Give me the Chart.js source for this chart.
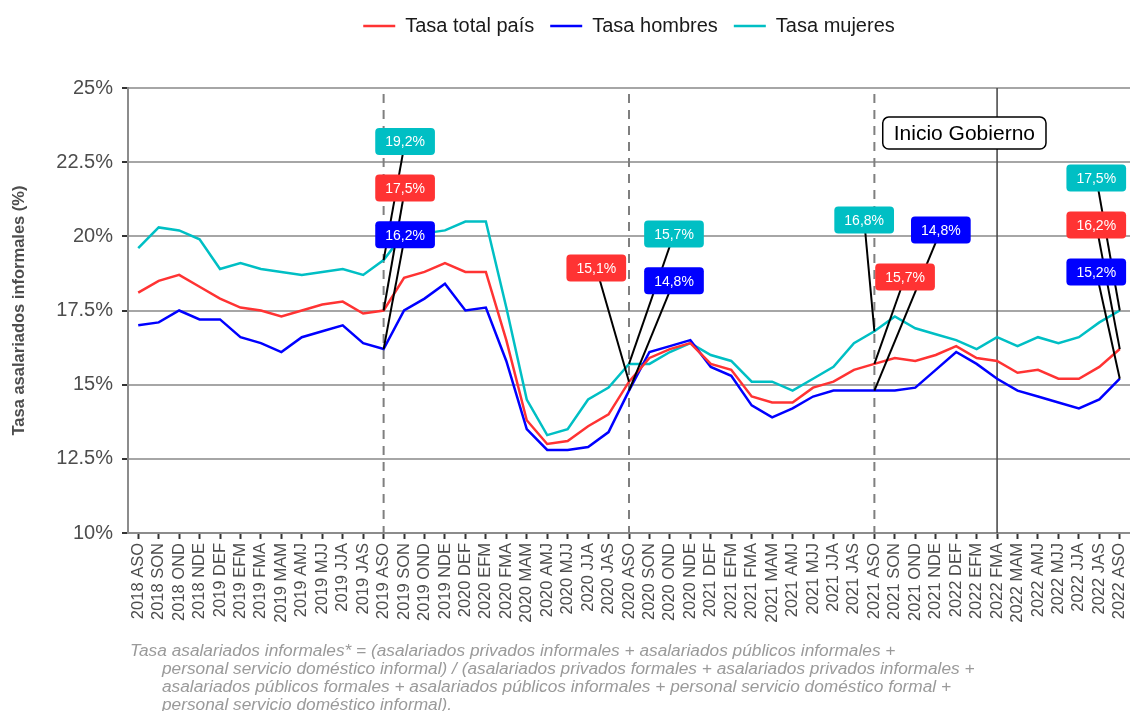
<!DOCTYPE html>
<html>
<head>
<meta charset="utf-8">
<script src="https://cdn.jsdelivr.net/npm/chart.js@4/dist/chart.umd.min.js"></script>
<style>
  html, body { margin: 0; padding: 0; background: #fff; }
  #wrap { width: 1130px; height: 711px; position: relative; }
</style>
</head>
<body>
<div id="wrap"><canvas id="chart"></canvas></div>
<script>
// Trimestres móviles
const periods = [
  "2018 ASO", "2018 SON", "2018 OND", "2018 NDE",
  "2019 DEF", "2019 EFM", "2019 FMA", "2019 MAM", "2019 AMJ", "2019 MJJ", "2019 JJA", "2019 JAS",
  "2019 ASO", "2019 SON", "2019 OND", "2019 NDE",
  "2020 DEF", "2020 EFM", "2020 FMA", "2020 MAM", "2020 AMJ", "2020 MJJ", "2020 JJA", "2020 JAS",
  "2020 ASO", "2020 SON", "2020 OND", "2020 NDE",
  "2021 DEF", "2021 EFM", "2021 FMA", "2021 MAM", "2021 AMJ", "2021 MJJ", "2021 JJA", "2021 JAS",
  "2021 ASO", "2021 SON", "2021 OND", "2021 NDE",
  "2022 DEF", "2022 EFM", "2022 FMA", "2022 MAM", "2022 AMJ", "2022 MJJ", "2022 JJA", "2022 JAS",
  "2022 ASO"
];

const tasaTotal = [
  18.1, 18.5, 18.7, 18.3, 17.9, 17.6, 17.5, 17.3, 17.5, 17.7, 17.8, 17.4,
  17.5, 18.6, 18.8, 19.1, 18.8, 18.8, 16.5, 13.8, 13.0, 13.1, 13.6, 14.0,
  15.1, 15.9, 16.2, 16.4, 15.7, 15.5, 14.6, 14.4, 14.4, 14.9, 15.1, 15.5,
  15.7, 15.9, 15.8, 16.0, 16.3, 15.9, 15.8, 15.4, 15.5, 15.2, 15.2, 15.6,
  16.2
];
const tasaHombres = [
  17.0, 17.1, 17.5, 17.2, 17.2, 16.6, 16.4, 16.1, 16.6, 16.8, 17.0, 16.4,
  16.2, 17.5, 17.9, 18.4, 17.5, 17.6, 15.8, 13.5, 12.8, 12.8, 12.9, 13.4,
  14.8, 16.1, 16.3, 16.5, 15.6, 15.3, 14.3, 13.9, 14.2, 14.6, 14.8, 14.8,
  14.8, 14.8, 14.9, 15.5, 16.1, 15.7, 15.2, 14.8, 14.6, 14.4, 14.2, 14.5,
  15.2
];
const tasaMujeres = [
  19.6, 20.3, 20.2, 19.9, 18.9, 19.1, 18.9, 18.8, 18.7, 18.8, 18.9, 18.7,
  19.2, 20.1, 20.1, 20.2, 20.5, 20.5, 17.6, 14.5, 13.3, 13.5, 14.5, 14.9,
  15.7, 15.7, 16.1, 16.4, 16.0, 15.8, 15.1, 15.1, 14.8, 15.2, 15.6, 16.4,
  16.8, 17.3, 16.9, 16.7, 16.5, 16.2, 16.6, 16.3, 16.6, 16.4, 16.6, 17.1,
  17.5
];

const yTicks = [10, 12.5, 15, 17.5, 20, 22.5, 25];

// periodos marcados con línea vertical
const dashedAt = ["2019 ASO", "2020 ASO", "2021 ASO"];
const solidAt = "2022 FMA";

const colors = ["#ff3333", "#0000ff", "#00bfc4"];

// etiquetas: serie, periodo del punto, posición de la caja (índice de categoría, valor)
const callouts = [
  { s: 2, at: "2019 ASO", bx: 13.05, by: 23.2 },
  { s: 0, at: "2019 ASO", bx: 13.05, by: 21.63 },
  { s: 1, at: "2019 ASO", bx: 13.05, by: 20.05 },
  { s: 0, at: "2020 ASO", bx: 22.4, by: 18.93 },
  { s: 2, at: "2020 ASO", bx: 26.2, by: 20.08 },
  { s: 1, at: "2020 ASO", bx: 26.2, by: 18.5 },
  { s: 2, at: "2021 ASO", bx: 35.5, by: 20.55 },
  { s: 0, at: "2021 ASO", bx: 37.5, by: 18.63 },
  { s: 1, at: "2021 ASO", bx: 39.25, by: 20.21 },
  { s: 2, at: "2022 ASO", bx: 46.85, by: 21.97 },
  { s: 0, at: "2022 ASO", bx: 46.85, by: 20.38 },
  { s: 1, at: "2022 ASO", bx: 46.85, by: 18.8 }
];
const gobierno = { text: "Inicio Gobierno", bx: 40.4, by: 23.48 };

const captionLines = [
  "Tasa asalariados informales* = (asalariados privados informales + asalariados públicos informales +",
  "personal servicio doméstico informal) / (asalariados privados formales + asalariados privados informales +",
  "asalariados públicos formales + asalariados públicos informales + personal servicio doméstico formal +",
  "personal servicio doméstico informal)."
];

function fmtPct(v) {
  return v.toFixed(1).replace(".", ",") + "%";
}

function roundBox(ctx, x, y, w, h, r) {
  ctx.beginPath();
  ctx.moveTo(x + r, y);
  ctx.arcTo(x + w, y, x + w, y + h, r);
  ctx.arcTo(x + w, y + h, x, y + h, r);
  ctx.arcTo(x, y + h, x, y, r);
  ctx.arcTo(x, y, x + w, y, r);
  ctx.closePath();
}

const refLines = {
  id: "refLines",
  beforeDatasetsDraw(chart) {
    const { ctx, chartArea, scales } = chart;
    ctx.save();
    ctx.strokeStyle = "#7f7f7f";
    ctx.lineWidth = 2;
    ctx.setLineDash([9, 7]);
    dashedAt.forEach(p => {
      const px = scales.x.getPixelForValue(periods.indexOf(p));
      ctx.beginPath();
      ctx.moveTo(px, chartArea.top + 6);
      ctx.lineTo(px, chartArea.bottom);
      ctx.stroke();
    });
    ctx.setLineDash([]);
    ctx.strokeStyle = "#4d4d4d";
    ctx.lineWidth = 1.6;
    const sx = scales.x.getPixelForValue(periods.indexOf(solidAt));
    ctx.beginPath();
    ctx.moveTo(sx, chartArea.top);
    ctx.lineTo(sx, chartArea.bottom);
    ctx.stroke();
    ctx.restore();
  }
};

const labelsPlugin = {
  id: "labels",
  afterDatasetsDraw(chart) {
    const { ctx, scales } = chart;
    const series = [tasaTotal, tasaHombres, tasaMujeres];
    ctx.save();
    // líneas guía
    ctx.strokeStyle = "#000";
    ctx.lineWidth = 2;
    callouts.forEach(c => {
      const i = periods.indexOf(c.at);
      ctx.beginPath();
      ctx.moveTo(scales.x.getPixelForValue(i), scales.y.getPixelForValue(series[c.s][i]));
      ctx.lineTo(scales.x.getPixelForValue(c.bx), scales.y.getPixelForValue(c.by));
      ctx.stroke();
    });
    // cajas
    ctx.font = "14px 'Liberation Sans', Arial, sans-serif";
    ctx.textAlign = "center";
    ctx.textBaseline = "middle";
    callouts.forEach(c => {
      const i = periods.indexOf(c.at);
      const txt = fmtPct(series[c.s][i]);
      const cx = scales.x.getPixelForValue(c.bx);
      const cy = scales.y.getPixelForValue(c.by);
      const w = ctx.measureText(txt).width + 20;
      const h = 27;
      ctx.fillStyle = colors[c.s];
      roundBox(ctx, cx - w / 2, cy - h / 2, w, h, 4);
      ctx.fill();
      ctx.fillStyle = "#fff";
      ctx.fillText(txt, cx, cy + 1);
    });
    // Inicio Gobierno
    ctx.font = "21px 'Liberation Sans', Arial, sans-serif";
    const gx = scales.x.getPixelForValue(gobierno.bx);
    const gy = scales.y.getPixelForValue(gobierno.by);
    const gw = ctx.measureText(gobierno.text).width + 22;
    const gh = 32;
    roundBox(ctx, gx - gw / 2, gy - gh / 2, gw, gh, 6);
    ctx.fillStyle = "#fff";
    ctx.fill();
    ctx.strokeStyle = "#000";
    ctx.lineWidth = 1.5;
    ctx.stroke();
    ctx.fillStyle = "#000";
    ctx.fillText(gobierno.text, gx, gy + 1);
    ctx.restore();
  },
  afterDraw(chart) {
    const { ctx } = chart;
    ctx.save();
    ctx.font = "italic 17.3px 'Liberation Sans Narrow', 'Liberation Sans', Arial, sans-serif";
    ctx.fillStyle = "#9a9a9a";
    ctx.textAlign = "left";
    ctx.textBaseline = "alphabetic";
    captionLines.forEach((line, k) => {
      ctx.fillText(line, k === 0 ? 130 : 162, 656 + k * 18);
    });
    ctx.restore();
  }
};

function makeDataset(label, data, color) {
  return {
    label: label,
    data: data,
    borderColor: color,
    backgroundColor: color,
    borderWidth: 2.5,
    pointRadius: 0,
    pointHoverRadius: 0,
    tension: 0
  };
}

document.addEventListener("DOMContentLoaded", function() {
  const ctx = document.getElementById("chart").getContext("2d");
  new Chart(ctx, {
    type: "line",
    data: {
      labels: periods,
      datasets: [
        makeDataset("Tasa total país", tasaTotal, colors[0]),
        makeDataset("Tasa hombres", tasaHombres, colors[1]),
        makeDataset("Tasa mujeres", tasaMujeres, colors[2])
      ]
    },
    options: {
      responsive: true,
      maintainAspectRatio: false,
      animation: false,
      events: [],
      layout: { padding: { top: 0, right: 0, bottom: 84, left: 0 } },
      plugins: {
        legend: {
          position: "top",
          fullSize: false,
          labels: {
            usePointStyle: true,
            pointStyle: "line",
            pointStyleWidth: 32,
            boxHeight: 20,
            padding: 16,
            color: "#1a1a1a",
            font: { size: 20, family: "'Liberation Sans', Arial, sans-serif" }
          }
        },
        // espacio vacío entre la leyenda y el gráfico
        title: {
          display: true,
          text: " ",
          position: "top",
          weight: 500,
          font: { size: 10, lineHeight: 1 },
          padding: { top: 16, bottom: 16 }
        },
        tooltip: { enabled: false }
      },
      scales: {
        x: {
          offset: true,
          grid: {
            display: true,
            drawOnChartArea: false,
            drawTicks: true,
            tickLength: 6,
            tickColor: "#333",
            tickWidth: 2
          },
          border: { color: "#8c8c8c", width: 2 },
          ticks: {
            autoSkip: false,
            maxRotation: 90,
            minRotation: 90,
            padding: 4,
            color: "#4d4d4d",
            font: { size: 16.5, family: "'Liberation Sans', Arial, sans-serif" }
          },
          afterFit(scale) {
            scale.height = 94;
            scale.paddingLeft = 0;
            scale.paddingRight = 0;
          }
        },
        y: {
          min: 10,
          max: 25,
          afterBuildTicks(scale) { scale.ticks = yTicks.map(v => ({ value: v })); },
          grid: {
            color: "#a6a6a6",
            lineWidth: 2,
            drawTicks: true,
            tickLength: 6,
            tickColor: "#333",
            tickWidth: 2
          },
          border: { color: "#8c8c8c", width: 2 },
          ticks: {
            padding: 9,
            color: "#4d4d4d",
            font: { size: 20, family: "'Liberation Sans', Arial, sans-serif" },
            callback: v => (v % 1 ? v.toFixed(1) : v) + "%"
          },
          title: {
            display: true,
            text: "Tasa asalariados informales (%)",
            color: "#4d4d4d",
            font: { size: 16.5, weight: "bold", family: "'Liberation Sans', Arial, sans-serif" },
            padding: { top: 10, bottom: 0 }
          },
          afterFit(scale) {
            scale.width = 128;
          }
        }
      }
    },
    plugins: [refLines, labelsPlugin]
  });
});
</script>
</body>
</html>
